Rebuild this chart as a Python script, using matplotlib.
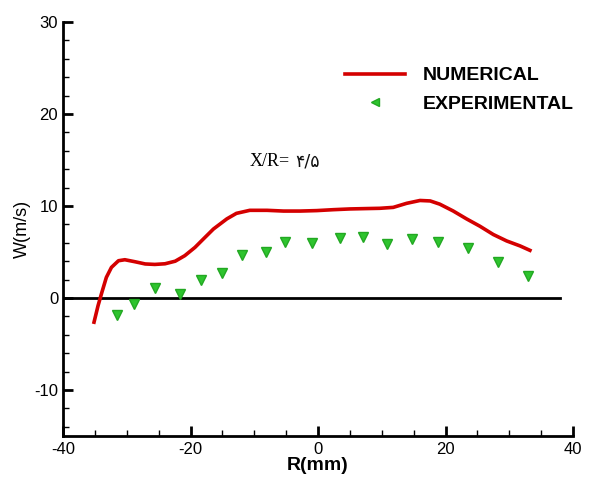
import numpy as np
import matplotlib.pyplot as plt
from matplotlib.lines import Line2D
from matplotlib.ticker import MultipleLocator

# numerical profile W(R)
r_num = [-35.2, -34.5, -33.9, -33.2, -32.4, -31.3, -30.3, -28.7, -27.1, -25.6,
         -24.0, -22.4, -20.9, -19.3, -18.0, -16.4, -14.3, -12.8, -10.7, -8.0,
         -5.4, -2.8, -0.2, 2.4, 5.0, 7.6, 9.7, 11.8, 13.9, 16.0,
         17.6, 19.1, 21.2, 23.3, 25.4, 27.5, 29.6, 31.7, 33.5]
w_num = [-2.82, -0.83, 0.62, 2.24, 3.33, 4.05, 4.16, 3.94, 3.70, 3.65,
         3.72, 4.00, 4.60, 5.50, 6.40, 7.50, 8.60, 9.20, 9.53, 9.53,
         9.45, 9.45, 9.50, 9.60, 9.68, 9.72, 9.75, 9.85, 10.29, 10.60,
         10.55, 10.20, 9.46, 8.60, 7.80, 6.90, 6.20, 5.66, 5.10]

# measured points
r_exp = [-31.6, -28.8, -25.6, -21.6, -18.3, -15.0, -11.9, -8.2, -5.2, -0.9,
         3.4, 7.1, 10.9, 14.8, 18.9, 23.5, 28.2, 32.9]
w_exp = [-1.9, -0.65, 1.05, 0.43, 1.95, 2.67, 4.66, 4.95, 6.1, 6.03,
         6.57, 6.64, 5.85, 6.39, 6.1, 5.45, 3.93, 2.35]

plt.rcParams['font.family'] = ['Liberation Sans', 'DejaVu Sans']
plt.rcParams['axes.unicode_minus'] = False

fig = plt.figure(figsize=(6.02, 4.84), dpi=100)
ax = fig.add_axes([63 / 602, 48 / 484, 510 / 602, 414 / 484])

red = '#d40000'
green = '#2ec42e'

ax.axhline(0, xmin=0, xmax=78 / 80, color='black', lw=2)
ax.plot(r_num, w_num, color=red, lw=2.6, solid_capstyle='butt')
ax.plot(r_exp, w_exp, ls='none', marker='v', ms=6.5, color=green,
        markeredgecolor='#22a822')

ax.set_xlim(-40, 40)
ax.set_ylim(-15, 30)
ax.xaxis.set_major_locator(MultipleLocator(20))
ax.xaxis.set_minor_locator(MultipleLocator(5))
ax.yaxis.set_major_locator(MultipleLocator(10))
ax.yaxis.set_minor_locator(MultipleLocator(2))
ax.tick_params(which='major', direction='in', length=7, width=2, labelsize=12)
ax.tick_params(which='minor', direction='in', length=4, width=1)
ax.tick_params(axis='x', pad=4)
ax.spines['top'].set_visible(False)
ax.spines['right'].set_visible(False)
ax.spines['left'].set_linewidth(2)
ax.spines['bottom'].set_linewidth(2)

ax.set_xlabel('R(mm)', fontsize=14, fontweight='bold', labelpad=0)
ax.set_ylabel('W(m/s)', fontsize=13, labelpad=2)

# section label
ax.text(-10.8, 14.3, 'X/R=', fontsize=13, family='Liberation Serif')
ax.text(-3.6, 14.3, '۴/۵', fontsize=12.5, family=['DejaVu Sans'],
        color='#111111')

handles = [Line2D([], [], color=red, lw=2.6),
           Line2D([], [], ls='none', marker='<', ms=6, color=green,
                  markeredgecolor='#22a822')]
ax.legend(handles, ['NUMERICAL', 'EXPERIMENTAL'], loc='center left',
          bbox_to_anchor=(345 / 602, 1 - 90 / 484),
          bbox_transform=fig.transFigure, frameon=False,
          prop={'weight': 'bold', 'size': 14}, handlelength=3.1,
          handletextpad=0.9, labelspacing=0.58, borderpad=0,
          borderaxespad=0)

fig.savefig('out.png', dpi=100)
